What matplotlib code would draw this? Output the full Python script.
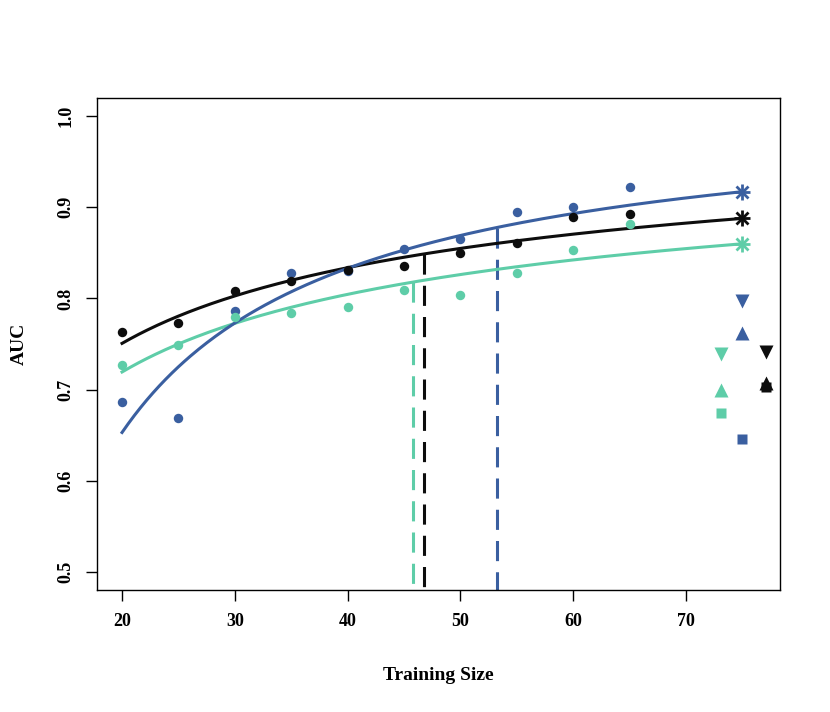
import numpy as np
import matplotlib
matplotlib.use("Agg")
import matplotlib.pyplot as plt

plt.rcParams['font.family'] = ['Liberation Serif', 'DejaVu Serif']
plt.rcParams['font.weight'] = 'bold'
plt.rcParams['lines.scale_dashes'] = False

# ---- data ----
train_size = [20, 25, 30, 35, 40, 45, 50, 55, 60, 65]
auc_black = [0.763, 0.773, 0.808, 0.819, 0.831, 0.835, 0.850, 0.861, 0.889, 0.893]
auc_blue = [0.686, 0.669, 0.786, 0.828, 0.830, 0.854, 0.865, 0.895, 0.900, 0.922]
auc_teal = [0.727, 0.749, 0.780, 0.784, 0.791, 0.809, 0.804, 0.828, 0.853, 0.882]

# inverse power law fits: y = a - b * x^(-c)
fit_black = (1.034, 1.267, 0.5)
fit_blue = (1.013, 7.20, 1.0)
fit_teal = (1.010, 1.30, 0.5)

pred_x = 75
threshold_x = {'black': 46.8, 'blue': 53.2, 'teal': 45.8}

# extra markers at the right
tri_down = {'blue': (75, 0.797), 'teal': (73.1, 0.739), 'black': (77.1, 0.741)}
tri_up = {'blue': (75, 0.762), 'teal': (73.1, 0.700), 'black': (77.1, 0.707)}
squares = {'blue': (75, 0.646), 'teal': (73.1, 0.674), 'black': (77.1, 0.703)}

colors = {'black': '#0d0d0d', 'blue': '#3A5FA0', 'teal': '#5ECDA8'}

def model(x, p):
    a, b, c = p
    return a - b * np.power(x, -c)

fig = plt.figure(figsize=(8.3, 7.12), dpi=100)
ax = fig.add_axes([97/830, 1-590/712, (780-97)/830, (590-98)/712])

xs = np.linspace(20, 75, 300)
series = [('teal', auc_teal, fit_teal), ('black', auc_black, fit_black), ('blue', auc_blue, fit_blue)]

for name, vals, fit in series:
    col = colors[name]
    tx = threshold_x[name]
    ax.plot([tx, tx], [model(tx, fit), 0.40], color=col, lw=2.2, dashes=(14.5, 8), zorder=2)

for name, vals, fit in series:
    col = colors[name]
    ax.plot(xs, model(xs, fit), color=col, lw=2.2, zorder=3)

for name, vals, fit in [('blue', auc_blue, fit_blue), ('black', auc_black, fit_black), ('teal', auc_teal, fit_teal)]:
    col = colors[name]
    ax.plot(train_size, vals, 'o', color=col, ms=6.8, mec='none', zorder=4)
    yp = model(pred_x, fit)
    ax.plot([pred_x], [yp], marker='+', color=col, ms=11, mew=2.0, zorder=5)
    ax.plot([pred_x], [yp], marker='x', color=col, ms=8, mew=2.0, zorder=5)

for name in ['blue', 'teal', 'black']:
    col = colors[name]
    ax.plot(*squares[name], marker='s', color=col, ms=7.2, mec='none', zorder=4)
    ax.plot(*tri_down[name], marker='v', color=col, ms=10, mec='none', zorder=4)
    ax.plot(*tri_up[name], marker='^', color=col, ms=10, mec='none', zorder=4)

ax.set_xlim(17.78, 78.33)
ax.set_ylim(0.4803, 1.0197)
ax.set_xticks([20, 30, 40, 50, 60, 70])
ax.set_xticklabels(['20', '30', '40', '50', '60', '70'], fontsize=13, fontweight='bold')
yt = [0.5, 0.6, 0.7, 0.8, 0.9, 1.0]
ax.set_yticks(yt)
ax.set_yticklabels([f'{v:.1f}' for v in yt], fontsize=13, fontweight='bold', rotation=90, va='center')
ax.tick_params(axis='both', length=8, width=1, pad=8.5)
for s in ax.spines.values():
    s.set_linewidth(1)
ax.set_xlabel('Training Size', fontsize=14, fontweight='bold', labelpad=27)
ax.set_ylabel('AUC', fontsize=14, fontweight='bold', labelpad=21)

fig.savefig('out.png', dpi=100)
